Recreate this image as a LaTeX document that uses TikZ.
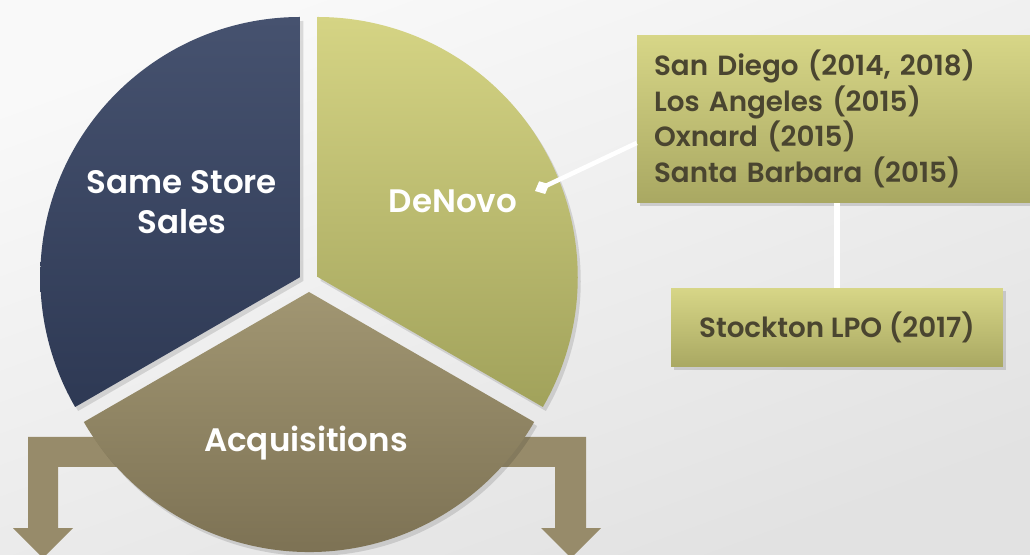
\documentclass[tikz,border=0pt]{standalone}
\usepackage{fontspec}
\setmainfont{Poppins}[BoldFont={Poppins SemiBold}]
\usetikzlibrary{arrows.meta,calc,shadows}
\definecolor{navytop}{HTML}{46526F}
\definecolor{navybottom}{HTML}{2E3954}
\definecolor{denovotop}{HTML}{D5D484}
\definecolor{denovobottom}{HTML}{A1A25B}
\definecolor{acqtop}{HTML}{A19672}
\definecolor{acqbottom}{HTML}{786D50}
\definecolor{boxtop}{HTML}{D7D687}
\definecolor{boxbottom}{HTML}{A9A862}
\definecolor{boxtext}{HTML}{4A4530}
\definecolor{arrowfill}{HTML}{978B6A}
\definecolor{bgtop}{HTML}{F9F9F9}
\definecolor{bgbottom}{HTML}{E2E2E2}
\begin{document}
\begin{tikzpicture}[x=0.02cm,y=0.02cm,
    slicelabel/.style={text=white,font=\bfseries\fontsize{18.5}{23}\selectfont,align=center},
    sitebox/.style={top color=boxtop,bottom color=boxbottom,text=boxtext,
        drop shadow={opacity=0.3,shadow xshift=1.5pt,shadow yshift=-1.5pt},
        font=\bfseries\fontsize{15.8}{20.2}\selectfont},
    link/.style={white,line width=2.6pt},
    bentarrow/.style={fill=arrowfill}]
    \useasboundingbox (0,0) rectangle (1030,554);
    \clip (0,0) rectangle (1030,554);
    \shade[top color=bgtop,bottom color=bgbottom,shading angle=20] (0,0) rectangle (1030,554);

    % arrows coming out under the acquisitions slice
    \fill[bentarrow] (150,117) -- (28,117) -- (28,26) -- (13,26) -- (43,-4) -- (73,26) -- (58,26) -- (58,87) -- (150,87) -- cycle;
    \fill[bentarrow] (460,117) -- (586,117) -- (586,26) -- (601,26) -- (571,-4) -- (541,26) -- (555,26) -- (555,87) -- (460,87) -- cycle;

    % pie slices
    \coordinate (sss) at (300.3,277);
    \coordinate (dnv) at (317.7,277);
    \coordinate (acq) at (309,262);
    \fill[black,opacity=0.12] ($(sss)+(3,-4)$) -- ++(90:260) arc[start angle=90,end angle=210,radius=260] -- cycle;
    \fill[black,opacity=0.12] ($(dnv)+(3,-4)$) -- ++(-30:260) arc[start angle=-30,end angle=90,radius=260] -- cycle;
    \shade[top color=navytop,bottom color=navybottom] (sss) -- ++(90:260) arc[start angle=90,end angle=210,radius=260] -- cycle;
    \shade[top color=denovotop,bottom color=denovobottom] (dnv) -- ++(-30:260) arc[start angle=-30,end angle=90,radius=260] -- cycle;
    \fill[black,opacity=0.12] ($(acq)+(3,-4)$) -- ++(210:260) arc[start angle=210,end angle=330,radius=260] -- cycle;
    \shade[top color=acqtop,bottom color=acqbottom] (acq) -- ++(210:260) arc[start angle=210,end angle=330,radius=260] -- cycle;

    \node[slicelabel] (samestore) at (182,352) {Same Store\\Sales};
    \node[slicelabel] (denovo) at (453,353) {DeNovo};
    \node[slicelabel] (acquisitions) at (306,111) {Acquisitions};

    % boxes on the right
    \node[sitebox,minimum width=8.06cm,minimum height=3.36cm,inner xsep=0.34cm,
        text width=7.38cm,align=left] (sites) at (838.5,435)
        {San Diego (2014, 2018)\\Los Angeles (2015)\\Oxnard (2015)\\Santa Barbara (2015)};
    \node[sitebox,minimum width=6.64cm,minimum height=1.58cm] (stockton) at (837,226.5) {Stockton LPO (2017)};

    \coordinate (tip) at (535,363);
    \draw[link,-{Diamond[length=9pt,width=8pt]}] ($(sites.west)+(0,-24)$) -- (tip);
    \draw[link,line width=3.5pt] (stockton.north) -- (stockton.north |- sites.south);
\end{tikzpicture}
\end{document}
